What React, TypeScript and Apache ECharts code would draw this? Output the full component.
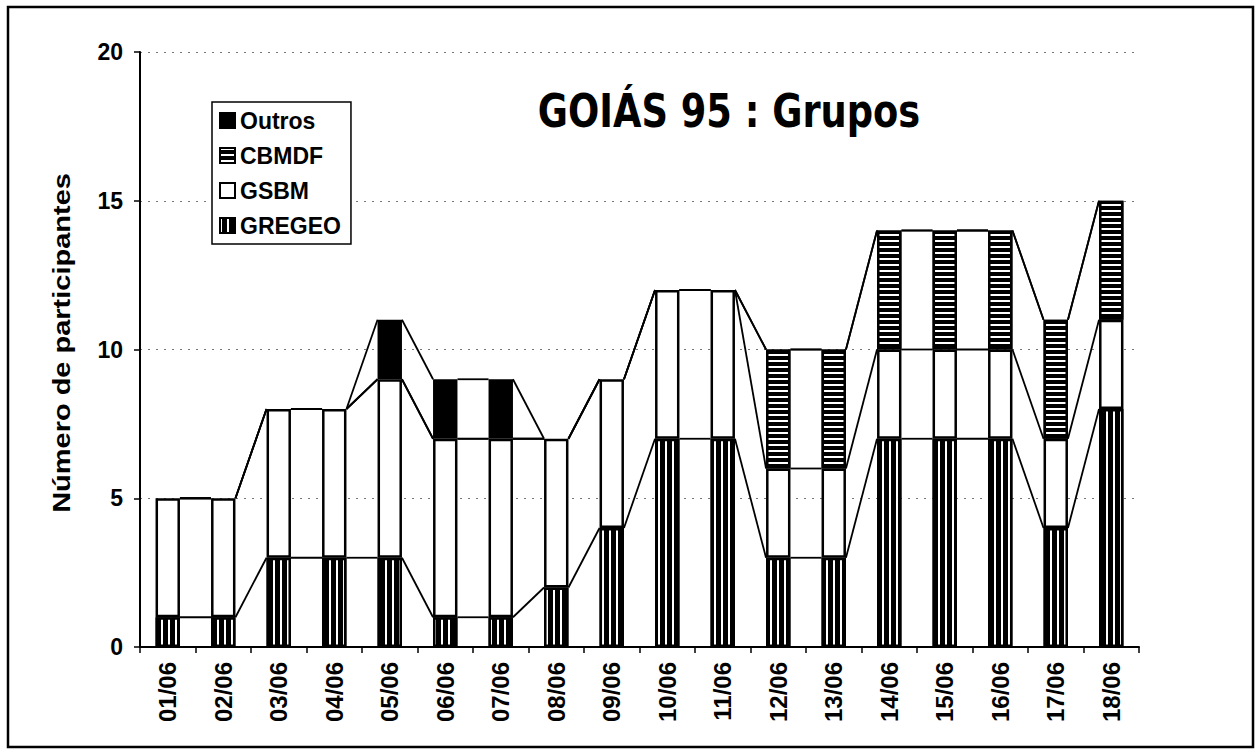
import React, { useEffect, useRef } from "react";
import * as echarts from "echarts";

const categories = ["01/06", "02/06", "03/06", "04/06", "05/06", "06/06", "07/06", "08/06", "09/06", "10/06", "11/06", "12/06", "13/06", "14/06", "15/06", "16/06", "17/06", "18/06"];
const gregeo = [1, 1, 3, 3, 3, 1, 1, 2, 4, 7, 7, 3, 3, 7, 7, 7, 4, 8];
const gsbm = [4, 4, 5, 5, 6, 6, 6, 5, 5, 5, 5, 3, 3, 3, 3, 3, 3, 3];
const cbmdf = [0, 0, 0, 0, 0, 0, 0, 0, 0, 0, 0, 4, 4, 4, 4, 4, 4, 4];
const outros = [0, 0, 0, 0, 2, 2, 2, 0, 0, 0, 0, 0, 0, 0, 0, 0, 0, 0];
const yTicks = [0, 5, 10, 15, 20];

const FONT = "'Liberation Sans', Arial, sans-serif";
const BAR_RATIO = 0.44;

export default function App() {
  const ref = useRef<HTMLDivElement>(null);
  useEffect(() => {
    if (!ref.current) return;
    const chart = echarts.init(ref.current, undefined, { renderer: "svg" });

    const seriesVals = [gregeo, gsbm, cbmdf, outros];
    const cum: number[][] = [];
    seriesVals.forEach((arr, s) => {
      cum.push(arr.map((v, i) => v + (s > 0 ? cum[s - 1][i] : 0)));
    });
    const lineData: number[][] = [];
    cum.forEach((c) => {
      for (let i = 0; i < c.length - 1; i++) lineData.push([i, c[i], c[i + 1]]);
    });
    const nz = (arr: number[]) => arr.map((v) => (v === 0 ? null : v));

    const barBase = {
      type: "bar" as const,
      stack: "total",
      barWidth: BAR_RATIO * 100 + "%",
      z: 3,
    };

    chart.setOption({
      animation: false,
      backgroundColor: "#fff",
      grid: { left: 140, right: 121, top: 52, bottom: 108, containLabel: false },
      legend: {
        data: ["Outros", "CBMDF", "GSBM", "GREGEO"],
        orient: "vertical",
        left: 212,
        top: 102,
        padding: [7, 10, 7, 7],
        itemGap: 12,
        itemWidth: 15,
        itemHeight: 15,
        icon: "rect",
        borderColor: "#000",
        borderWidth: 1.5,
        backgroundColor: "#fff",
        textStyle: { fontFamily: FONT, fontWeight: "bold", fontSize: 23, color: "#000", lineHeight: 22 },
        z: 10,
      },
      xAxis: {
        type: "category",
        data: categories,
        boundaryGap: true,
        axisLine: { lineStyle: { color: "#000", width: 2 } },
        axisTick: { show: true, length: 6, interval: 0, lineStyle: { color: "#000", width: 1.5 } },
        axisLabel: { interval: 0, rotate: 90, fontFamily: FONT, fontWeight: "bold", fontSize: 24, color: "#000", margin: 15 },
      },
      yAxis: {
        type: "value",
        min: yTicks[0],
        max: yTicks[yTicks.length - 1],
        interval: 5,
        axisLine: { show: true, lineStyle: { color: "#000", width: 2 } },
        axisTick: { show: true, length: 6, lineStyle: { color: "#000", width: 1.5 } },
        axisLabel: { fontFamily: FONT, fontWeight: "bold", fontSize: 23, color: "#000", margin: 17 },
        splitLine: { show: true, lineStyle: { color: "#777", width: 1, type: [2, 6] } },
      },
      graphic: [
        {
          type: "rect",
          shape: { x: 8, y: 7, width: 1245, height: 740 },
          style: { fill: "none", stroke: "#000", lineWidth: 2.5 },
          silent: true,
          z: 0,
        },
        {
          type: "text",
          x: 729,
          y: 111,
          scaleX: 0.8,
          style: {
            text: "GOIÁS 95 : Grupos",
            font: "bold 46px 'DejaVu Sans', sans-serif",
            fill: "#000",
            align: "center",
            verticalAlign: "middle",
          },
          z: 10,
        },
        {
          type: "text",
          x: 62,
          y: 343,
          rotation: Math.PI / 2,
          scaleX: 1.26,
          style: {
            text: "Número de participantes",
            font: "bold 23px " + FONT,
            fill: "#000",
            align: "center",
            verticalAlign: "middle",
          },
          z: 10,
        },
      ],
      series: [
        {
          ...barBase,
          name: "GREGEO",
          data: nz(gregeo),
          itemStyle: {
            color: "#000",
            borderColor: "#000",
            borderWidth: 2.5,
            decal: { symbol: "rect", symbolSize: 1, color: "#fff", dashArrayX: [1.5, 4.5], dashArrayY: [10, 0] },
          },
        },
        {
          ...barBase,
          name: "GSBM",
          data: nz(gsbm),
          itemStyle: { color: "#fff", borderColor: "#000", borderWidth: 2.5 },
        },
        {
          ...barBase,
          name: "CBMDF",
          data: nz(cbmdf),
          itemStyle: {
            color: "#000",
            borderColor: "#000",
            borderWidth: 2.5,
            decal: { symbol: "rect", symbolSize: 1, color: "#fff", dashArrayX: [10, 0], dashArrayY: [1.5, 3.5] },
          },
        },
        {
          ...barBase,
          name: "Outros",
          data: nz(outros),
          itemStyle: { color: "#000", borderColor: "#000", borderWidth: 2.5 },
        },
        {
          type: "custom",
          name: "seriesLines",
          data: lineData,
          z: 4,
          silent: true,
          encode: { x: 0, y: 1 },
          renderItem: (params: any, api: any) => {
            const i = api.value(0);
            const p0 = api.coord([i, api.value(1)]);
            const p1 = api.coord([i + 1, api.value(2)]);
            const bw = api.size([1, 0])[0] * BAR_RATIO;
            return {
              type: "line",
              shape: { x1: p0[0] + bw / 2, y1: p0[1], x2: p1[0] - bw / 2, y2: p1[1] },
              style: { stroke: "#000", lineWidth: 1.8 },
            };
          },
        },
      ],
    });
    return () => chart.dispose();
  }, []);
  return <div ref={ref} style={{ position: "fixed", left: 0, top: 0, width: 1260, height: 755 }} />;
}
